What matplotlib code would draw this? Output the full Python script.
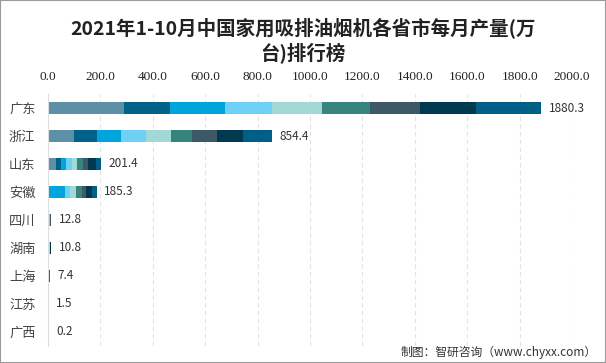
import numpy as np
import matplotlib
matplotlib.use("Agg")
import matplotlib.pyplot as plt
from matplotlib.patches import Rectangle

plt.rcParams['font.family'] = ['Noto Sans CJK SC', 'DejaVu Sans']

provinces = ["广东", "浙江", "山东", "安徽", "四川", "湖南", "上海", "江苏", "广西"]
totals = [1880.3, 854.4, 201.4, 185.3, 12.8, 10.8, 7.4, 1.5, 0.2]
months = ["1-2月", "3月", "4月", "5月", "6月", "7月", "8月", "9月", "10月"]

# monthly output per province, one list per month segment
gd = [289.0, 175.5, 209.5, 182.0, 189.0, 183.0, 191.0, 216.0, 245.3]
zj = [98.0, 88.0, 91.5, 95.5, 95.0, 80.5, 95.5, 99.0, 111.4]
sd = [29.0, 19.0, 19.5, 22.5, 20.0, 22.0, 19.0, 31.0, 19.4]
ah = [0.0, 0.0, 64.0, 19.0, 23.0, 22.0, 16.0, 23.0, 18.3]
sc = [2.5, 1.3, 1.4, 1.3, 1.2, 1.3, 1.2, 1.3, 1.3]
hn = [2.0, 1.1, 1.1, 1.0, 1.1, 1.1, 1.2, 1.1, 1.1]
sh = [1.4, 0.7, 0.8, 0.8, 0.7, 0.8, 0.7, 0.8, 0.7]
js = [0.3, 0.1, 0.2, 0.1, 0.2, 0.1, 0.2, 0.1, 0.2]
gx = [0.0, 0.0, 0.0, 0.0, 0.0, 0.0, 0.0, 0.1, 0.1]

colors = ["#5D8FA6", "#006189", "#00A5DE", "#6FD0F6", "#A2D9D6",
          "#36847C", "#3D5867", "#003A50", "#005F88"]

data = np.array([gd, zj, sd, ah, sc, hn, sh, js, gx])

fig = plt.figure(figsize=(6.06, 3.63), dpi=100)
ax = fig.add_axes([0.0792, 0.047, 0.8647, 0.694])

y = np.arange(len(provinces))
left = np.zeros(len(provinces))
for i in range(len(months)):
    ax.barh(y, data[:, i], left=left, height=0.43, color=colors[i], label=months[i])
    left += data[:, i]

for yi, t in zip(y, totals):
    ax.text(t + 30, yi, f"{t:.1f}", va='center', ha='left', fontsize=8.5, color='#333333')

ax.set_xlim(0, 2000)
ax.set_ylim(len(provinces) - 0.5, -0.5)
ax.set_yticks(y)
ax.set_yticklabels(provinces, fontsize=9.5, color='#444444')
ax.set_xticks(np.arange(0, 2001, 200))
ax.set_xticklabels([f"{v:.1f}" for v in np.arange(0, 2001, 200)],
                   fontsize=9.5, family='Liberation Serif', color='#222222')
ax.xaxis.tick_top()
ax.tick_params(axis='both', length=0)
ax.tick_params(axis='x', pad=8)
ax.tick_params(axis='y', pad=9)
ax.grid(axis='x', color='#E3E3E3', linestyle=(0, (4, 3)), linewidth=0.8)
ax.set_axisbelow(True)
for s in ['top', 'right', 'bottom']:
    ax.spines[s].set_visible(False)
ax.spines['left'].set_color('#DDDDDD')

fig.text(0.5, 0.925, "2021年1-10月中国家用吸排油烟机各省市每月产量(万", ha='center', va='center',
         fontsize=14, fontweight='bold', color='#222222')
fig.text(0.5, 0.853, "台)排行榜", ha='center', va='center',
         fontsize=14, fontweight='bold', color='#222222')
fig.text(0.985, 0.03, "制图：智研咨询（www.chyxx.com）", ha='right', va='center',
         fontsize=8.5, color='#333333')

fig.patches.append(Rectangle((0, 0), 1, 1, transform=fig.transFigure, fill=False,
                             edgecolor='#9A9A9A', linewidth=1.5))

fig.savefig("out.png", dpi=100)
